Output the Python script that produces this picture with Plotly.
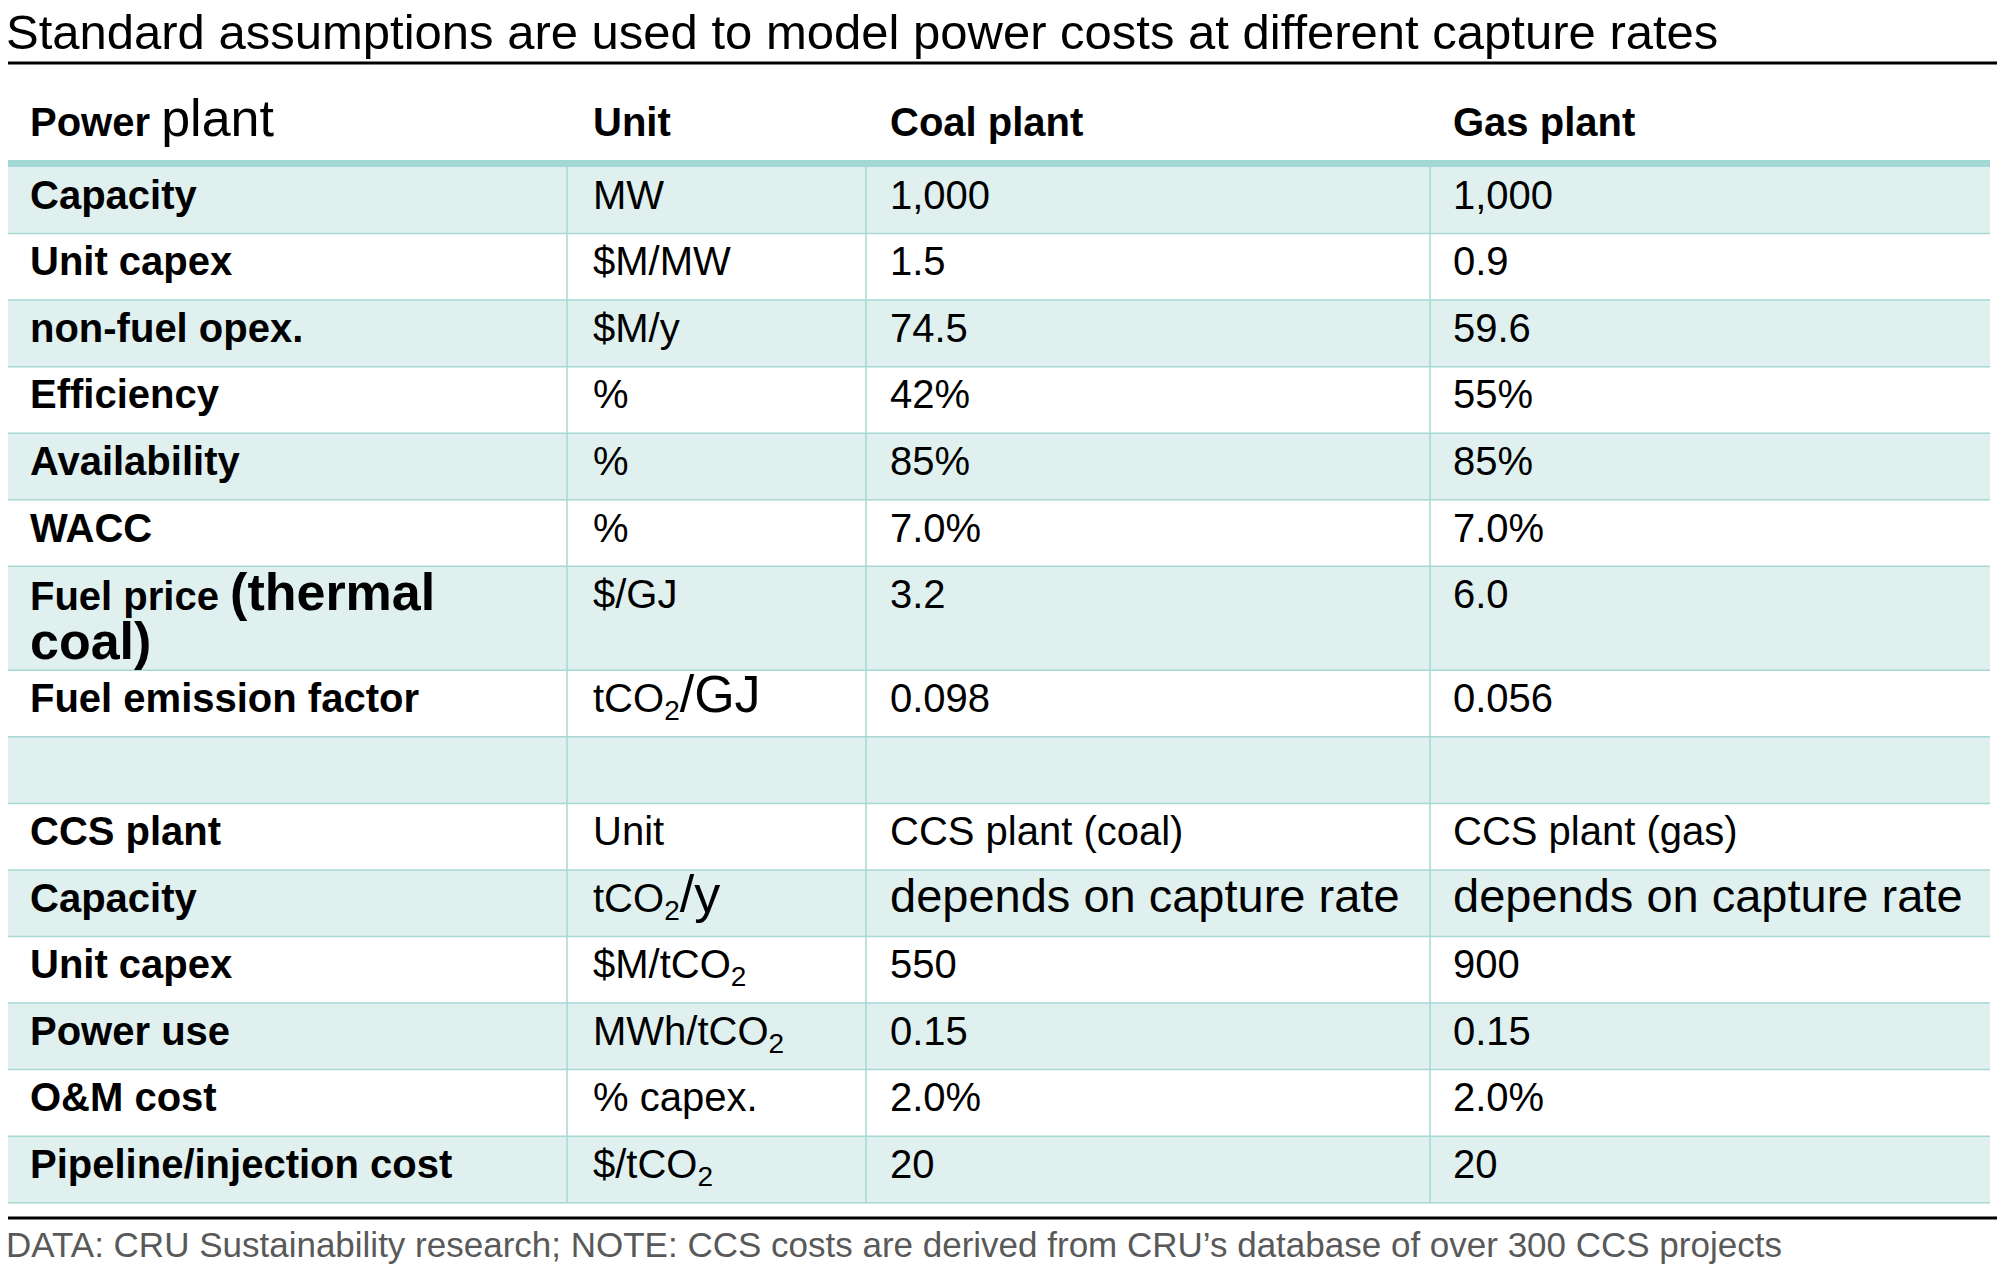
import plotly.graph_objects as go

# text sizes used in the table
BASE = 40
BIG = 52
MID = 47


def big(s, size=BIG):
    # the source table mixes in a larger run of text in a few cells
    return f"<span style='font-size:{size}px'>{s}</span>"


CO2 = "tCO<sub>2</sub>"

# chart text
title = "Standard assumptions are used to model power costs at different capture rates"
source = "DATA: CRU Sustainability research; NOTE: CCS costs are derived from CRU’s database of over 300 CCS projects"

# table content
header = ["<b>Power</b> " + big("plant"), "<b>Unit</b>", "<b>Coal plant</b>", "<b>Gas plant</b>"]

labels = ["Capacity", "Unit capex", "non-fuel opex.", "Efficiency", "Availability", "WACC",
          "Fuel price " + big("(thermal") + "<br>" + big("coal)"), "Fuel emission factor", "",
          "CCS plant", "Capacity", "Unit capex", "Power use", "O&M cost", "Pipeline/injection cost"]

units = ["MW", "$M/MW", "$M/y", "%", "%", "%", "$/GJ", CO2 + big("/GJ"), "",
         "Unit", CO2 + big("/y"), "$M/" + CO2, "MWh/" + CO2, "% capex.", "$/" + CO2]

coal = ["1,000", "1.5", "74.5", "42%", "85%", "7.0%", "3.2", "0.098", "",
        "CCS plant (coal)", big("depends on capture rate", MID), "550", "0.15", "2.0%", "20"]

gas = ["1,000", "0.9", "59.6", "55%", "85%", "7.0%", "6.0", "0.056", "",
       "CCS plant (gas)", big("depends on capture rate", MID), "900", "0.15", "2.0%", "20"]

# layout (pixels of the page; the page body adds an 8px offset)
W, H = 2012, 1270
OFFSET = 8
FONT = "Liberation Sans, Arial, sans-serif"
FILL = "#DFF0EF"
GRID = "#A6D8D4"
HEAD_LINE = "#A3D9D5"
TABLE_LEFT, TABLE_RIGHT = 6, 1990
COL_LINES = [567, 866, 1430]
TEXT_X = [28, 591, 888, 1451]
HEADER_BASELINE = 136
BODY_TOP = 167
ROW_H = 66.55
TALL_ROW_H = 104
FIRST_LINE = 44
LINE_GAP = 49

fig = go.Figure()
shapes = []
annotations = []


def top_size(text, size):
    # largest font used in a line of text
    sizes = [size]
    for part in text.split("font-size:")[1:]:
        sizes.append(float(part.split("px")[0]))
    return max(sizes)


def add_text(x, baseline, text, size=BASE, color="black"):
    y = baseline - 0.905 * top_size(text, size) - 2
    # annotations outside the axis range are hidden, so anchor inside and shift
    ax, ay = max(x, OFFSET + 1), max(y, OFFSET + 1)
    annotations.append(dict(
        x=ax, y=ay, xshift=x - ax, yshift=ay - y, xref="x", yref="y",
        text=text, showarrow=False, xanchor="left", yanchor="top", align="left",
        font=dict(family=FONT, size=size, color=color)))


def hline(y, x0, x1, color, width):
    shapes.append(dict(type="line", xref="x", yref="y", x0=x0, x1=x1, y0=y, y1=y,
                       line=dict(color=color, width=width)))


# title and rules
add_text(4, 49, title, size=49)
hline(63, 0, 1997, "black", 3)

# header row
for x, t in zip(TEXT_X, header):
    add_text(x, HEADER_BASELINE, t)

# body rows
heights = [TALL_ROW_H if "<br>" in lab else ROW_H for lab in labels]
top = BODY_TOP
for i, h in enumerate(heights):
    if i % 2 == 0:
        shapes.append(dict(type="rect", xref="x", yref="y", x0=TABLE_LEFT, x1=TABLE_RIGHT,
                           y0=top, y1=top + h, fillcolor=FILL, line=dict(width=0), layer="below"))
    hline(top + h, TABLE_LEFT, TABLE_RIGHT, GRID, 1.5)
    row = [labels[i], units[i], coal[i], gas[i]]
    for j, (x, t) in enumerate(zip(TEXT_X, row)):
        if not t:
            continue
        lines = t.split("<br>")
        if len(lines) > 1:
            base, gap = top + FIRST_LINE, LINE_GAP
        else:
            base, gap = top + 42, 0
        for k, line in enumerate(lines):
            add_text(x, base + k * gap, f"<b>{line}</b>" if j == 0 else line)
    top += h
body_bottom = top

for x in COL_LINES:
    shapes.append(dict(type="line", xref="x", yref="y", x0=x, x1=x, y0=BODY_TOP, y1=body_bottom,
                       line=dict(color=GRID, width=1.5)))

hline(163.5, TABLE_LEFT, TABLE_RIGHT, HEAD_LINE, 7)
hline(1218, 0, 1997, "black", 3)

# source note
add_text(4, 1257, source, size=35, color="#595959")

fig.update_layout(
    width=W, height=H,
    margin=dict(l=0, r=0, t=0, b=0),
    paper_bgcolor="white", plot_bgcolor="white",
    xaxis=dict(range=[OFFSET, W + OFFSET], visible=False, fixedrange=True),
    yaxis=dict(range=[H + OFFSET, OFFSET], visible=False, fixedrange=True),
    shapes=shapes, annotations=annotations,
    showlegend=False,
)

fig.write_html("out.html")
